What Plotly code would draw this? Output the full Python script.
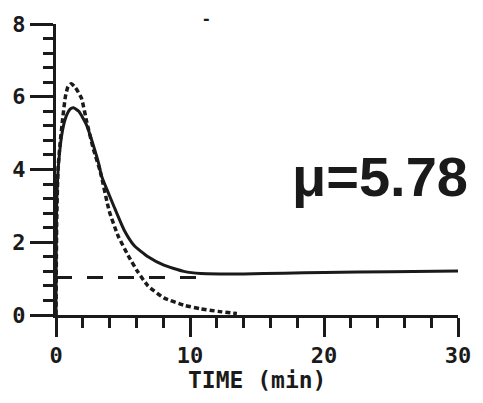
import plotly.graph_objects as go

# Solid curve (measured)
solid_t = [0, 0.05, 0.2, 0.5, 0.8, 1.05, 1.3, 1.7, 2.26, 2.8, 3.23, 3.38, 3.97, 4.34,
           5.09, 5.83, 6.87, 8.05, 9.54, 10.8, 12.3, 14, 17, 20, 25, 30]
solid_y = [0, 3.0, 4.2, 5.1, 5.5, 5.66, 5.70, 5.6, 5.24, 4.65, 4.1, 3.84, 3.3, 2.97,
           2.33, 1.91, 1.6, 1.37, 1.2, 1.14, 1.13, 1.13, 1.15, 1.17, 1.19, 1.21]

# Dotted curve
dot_t = [0, 0.05, 0.15, 0.3, 0.5, 0.7, 0.9, 1.15, 1.45, 1.9, 2.3, 2.8, 3.3, 3.97, 4.64,
         5.38, 6.1, 6.87, 8.05, 9.54, 10.8, 12.1, 13.5]
dot_y = [0, 2.5, 4.0, 4.7, 5.4, 6.0, 6.28, 6.36, 6.25, 5.96, 5.3, 4.55, 3.95, 2.86, 2.17,
         1.64, 1.19, 0.8, 0.47, 0.27, 0.17, 0.1, 0.04]

# Long-dashed baseline
dash_t = [0, 11.2]
dash_y = [1.03, 1.03]

x_ticks = [0, 10, 20, 30]
x_labels = ["0", "10", "20", "30"]
y_ticks = [0, 2, 4, 6, 8]
y_labels = ["0", "2", "4", "6", "8"]

ink = "#1a1a1a"
tickfont = dict(family="DejaVu Sans Mono", size=22, color=ink, weight="bold")

fig = go.Figure()
fig.add_trace(go.Scatter(x=solid_t, y=solid_y, mode="lines",
                         line=dict(color=ink, width=3, shape="spline", smoothing=0.5)))
fig.add_trace(go.Scatter(x=dot_t, y=dot_y, mode="lines",
                         line=dict(color=ink, width=3.5, dash="5px,3px", shape="spline", smoothing=0.5)))
fig.add_trace(go.Scatter(x=dash_t, y=dash_y, mode="lines",
                         line=dict(color=ink, width=3, dash="16px,15px")))

fig.update_layout(
    width=483, height=403,
    margin=dict(l=54, r=25, t=13, b=88),
    paper_bgcolor="white", plot_bgcolor="white",
    showlegend=False,
    xaxis=dict(range=[0, 30], tickvals=x_ticks, ticktext=x_labels,
               showgrid=False, zeroline=False, showline=True, linecolor=ink, linewidth=3,
               ticks="outside", ticklen=19, tickwidth=3, tickcolor=ink, tickfont=tickfont,
               minor=dict(dtick=2, ticks="outside", ticklen=10, tickwidth=3, tickcolor=ink, showgrid=False)),
    yaxis=dict(range=[0, 8], tickvals=y_ticks, ticktext=y_labels,
               showgrid=False, zeroline=False, showline=True, linecolor=ink, linewidth=3,
               ticks="outside", ticklen=23, tickwidth=3, tickcolor=ink, tickfont=tickfont,
               minor=dict(dtick=0.4, ticks="outside", ticklen=10, tickwidth=3, tickcolor=ink, showgrid=False)),
    annotations=[
        dict(text="TIME (min)", xref="paper", yref="paper", x=0.5, y=-0.225,
             xanchor="center", yanchor="middle", showarrow=False,
             font=dict(family="DejaVu Sans Mono", size=23, color=ink, weight="bold")),
        dict(text="μ=5.78", xref="x", yref="y", x=24.2, y=3.8,
             xanchor="center", yanchor="middle", showarrow=False,
             font=dict(family="Liberation Sans", size=56, color=ink, weight="bold")),
        dict(text="-", xref="paper", yref="paper", x=0.375, y=1.02,
             xanchor="center", yanchor="middle", showarrow=False,
             font=dict(family="DejaVu Sans", size=16, color=ink, weight="bold")),
    ],
)

fig.write_html("out.html")
